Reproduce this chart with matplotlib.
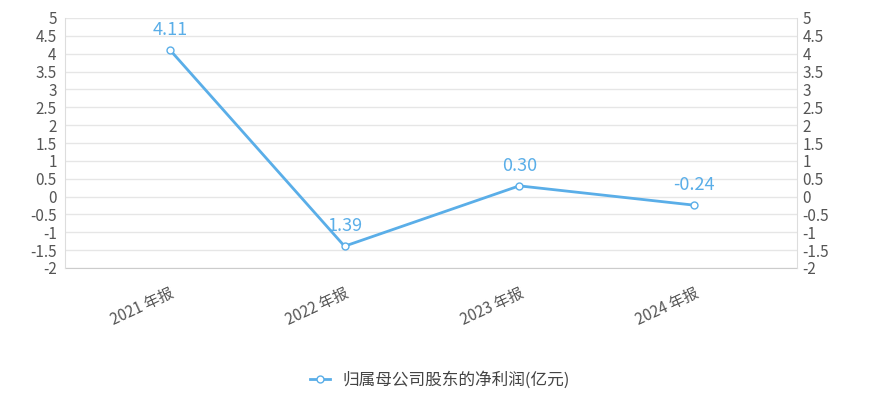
import matplotlib
matplotlib.use("Agg")
import matplotlib.pyplot as plt
import matplotlib.transforms as mtransforms
import numpy as np

plt.rcParams['font.family'] = ['Noto Sans CJK SC', 'DejaVu Sans']

categories = ["2021 年报", "2022 年报", "2023 年报", "2024 年报"]
values = [4.11, -1.39, 0.30, -0.24]
labels = ["4.11", "1.39", "0.30", "-0.24"]
yticks = [5, 4.5, 4, 3.5, 3, 2.5, 2, 1.5, 1, 0.5, 0, -0.5, -1, -1.5, -2]
series_name = "归属母公司股东的净利润(亿元)"

color = "#5aaee8"
fig = plt.figure(figsize=(8.7, 4.01), dpi=100)
ax = fig.add_axes([65/870, 1-268/401, (797-65)/870, 250/401])
x = np.arange(len(categories))
ax.plot(x, values, color=color, lw=2, marker='o', ms=5, mfc='white', mec=color, mew=1, label=series_name)
for xi, v, t in zip(x, values, labels):
    ax.annotate(t, (xi, v), xytext=(0, 8), textcoords='offset points', ha='center', va='bottom',
                color=color, fontsize=13)
ax.set_xlim(-0.6, 3.59)
ax.set_ylim(-2, 5)
ax.set_yticks(yticks)
ax.set_yticklabels([f"{t:g}" for t in yticks])
ax.grid(axis='y', color='#e6e6e6', lw=1)
ax.set_axisbelow(True)
ax.set_xticks(x)
ax.set_xticklabels(categories, rotation=25, ha='right', rotation_mode='anchor', fontsize=11, color='#555555')
offset = mtransforms.ScaledTranslation(0.45, 0, fig.dpi_scale_trans)
for lab in ax.get_xticklabels():
    lab.set_transform(lab.get_transform() + offset)
ax.tick_params(axis='x', length=0, pad=12)
ax.tick_params(axis='y', length=0, labelsize=11, colors='#555555', pad=6)
for s in ['top', 'right', 'left']:
    ax.spines[s].set_visible(False)
ax.spines['bottom'].set_color('#cccccc')
ax2 = ax.twinx()
ax2.set_ylim(-2, 5)
ax2.set_yticks(yticks)
ax2.set_yticklabels([f"{t:g}" for t in yticks])
ax2.tick_params(axis='y', length=0, labelsize=11, colors='#555555', pad=4)
for s in ax2.spines.values():
    s.set_visible(False)
ax2.spines['left'].set_visible(True); ax2.spines['left'].set_color('#dddddd')
ax2.spines['right'].set_visible(True); ax2.spines['right'].set_color('#dddddd')
fig.legend(loc='center', bbox_to_anchor=(440/870, 1-380/401), frameon=False, fontsize=12,
           handlelength=1.2, labelcolor='#444444')
fig.savefig("out.png", dpi=100)
